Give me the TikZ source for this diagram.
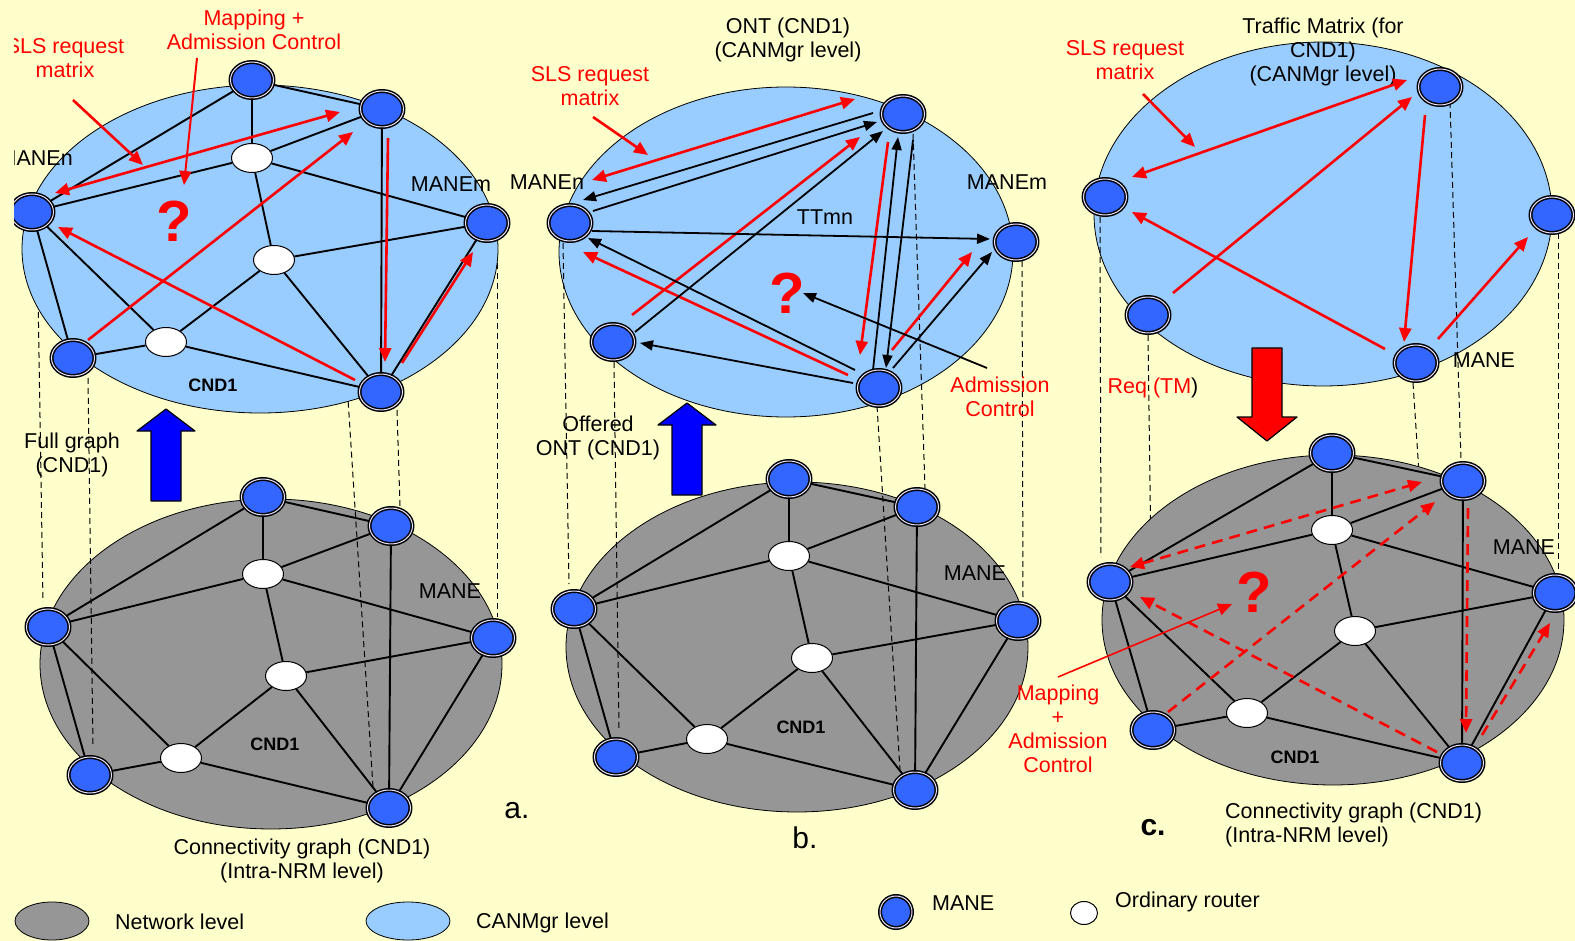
\documentclass[tikz,border=0pt]{standalone}
\usepackage{fontspec}
\setmainfont{Liberation Sans}
\usetikzlibrary{shapes.geometric,arrows.meta,calc}
\definecolor{paper}{HTML}{FFFFCC}
\definecolor{canblue}{HTML}{99CCFF}
\definecolor{netgray}{HTML}{969696}
\definecolor{maneblue}{HTML}{3366FF}
\definecolor{liftblue}{HTML}{0000FF}
\pgfdeclarelayer{ground}
\pgfdeclarelayer{lvlA}
\pgfdeclarelayer{lvlB}
\pgfdeclarelayer{lvlC}
\pgfsetlayers{ground,lvlA,lvlB,lvlC,main}
\tikzset{
  mane/.style={ellipse,draw=black,line width=1.5pt,double=blue!10,double distance=1pt,
    fill=maneblue,minimum width=43pt,minimum height=36pt},
  router/.style={ellipse,draw=black,line width=1pt,fill=white,minimum width=41pt,minimum height=29pt},
  netlevel/.style={ellipse,draw=black,line width=0.8pt,fill=netgray},
  canlevel/.style={ellipse,draw=black,line width=0.8pt,fill=canblue},
  link/.style={line width=1.9pt},
  guide/.style={line width=1pt,dash pattern=on 6pt off 4pt},
  req/.style={red,line width=2.6pt,-{Triangle[length=14pt,width=12pt]}},
  reqboth/.style={req,{Triangle[length=14pt,width=12pt]}-{Triangle[length=14pt,width=12pt]}},
  mapreq/.style={req,dash pattern=on 11pt off 7pt},
  mapbothreq/.style={reqboth,dash pattern=on 11pt off 7pt},
  ontarr/.style={line width=1.8pt,-{Triangle[length=13pt,width=10pt]}},
  note/.style={red,align=center},
  quest/.style={red,font=\fontsize{58}{58}\selectfont\bfseries},
  cnd/.style={font=\fontsize{18}{18}\selectfont\bfseries},
  panel/.style={anchor=base,font=\fontsize{30}{30}\selectfont},
  lift/.style={fill=liftblue,draw=black,line width=1.2pt},
}
% links of one CND1 graph, #1 = prefix of the node names
\newcommand{\cndlinks}[1]{%
  \draw[link] (#1T1) -- (#1N) (#1T1) -- (#1T2) (#1T1) -- (#1R1) (#1T2) -- (#1R1)
    (#1R1) -- (#1N) (#1R1) -- (#1M) (#1R1) -- (#1R2) (#1R2) -- (#1M)
    (#1R2) -- (#1R3) (#1R2) -- (#1BR) (#1N) -- (#1BL) (#1N) -- (#1R3)
    (#1R3) -- (#1BL) (#1R3) -- (#1BR) (#1T2) -- (#1BR) (#1M) -- (#1BR);}
\begin{document}
\begin{tikzpicture}[x=1pt,y=-1pt,line join=round,font=\fontsize{21.5}{24}\selectfont,
  every node/.append style={inner sep=0pt}]
\begin{pgfonlayer}{ground}
  \fill[paper] (0,0) rectangle (1575,941);
\end{pgfonlayer}
\useasboundingbox (0,0) rectangle (1575,941);
% levels
\begin{pgfonlayer}{lvlA}
  \node[netlevel,minimum width=462pt,minimum height=330pt] (aNet) at (271,664) {};
  \node[netlevel,minimum width=462pt,minimum height=330pt] (bNet) at (797,647) {};
  \node[canlevel,minimum width=454pt,minimum height=330pt] (bCan) at (786,252) {};
  \node[canlevel,minimum width=458pt,minimum height=344pt] (cCan) at (1323,214) {};
\end{pgfonlayer}
\begin{pgfonlayer}{lvlC}
  \node[canlevel,minimum width=476pt,minimum height=328pt] (aCan) at (260,249) {};
  \node[netlevel,minimum width=462pt,minimum height=330pt] (cNet) at (1333,620) {};
\end{pgfonlayer}

% a. full graph (top) and connectivity graph (bottom)
\node[mane] (atT1) at (252,80) {};   \node[mane] (atT2) at (382,109) {};
\node[mane] (atN) at (32,212) {};    \node[mane] (atM) at (487,223) {};
\node[mane] (atBL) at (73,358) {};   \node[mane] (atBR) at (381,392) {};
\node[router] (atR1) at (252,158) {}; \node[router] (atR2) at (274,260) {};
\node[router] (atR3) at (166,342) {};
\node[mane] (abT1) at (263,497) {};  \node[mane] (abT2) at (391,526) {};
\node[mane] (abN) at (48,627) {};    \node[mane] (abM) at (493,638) {};
\node[mane] (abBL) at (90,775) {};   \node[mane] (abBR) at (389,808) {};
\node[router] (abR1) at (263,574) {}; \node[router] (abR2) at (286,676) {};
\node[router] (abR3) at (181,758) {};
\cndlinks{at} \cndlinks{ab}

% b. ONT (top) and connectivity graph (bottom)
\node[mane] (btT2) at (903,114) {};  \node[mane] (btN) at (570,223) {};
\node[mane] (btM) at (1016,242) {};  \node[mane] (btBL) at (613,342) {};
\node[mane] (btBR) at (879,388) {};
\node[mane] (bbT1) at (789,479) {};  \node[mane] (bbT2) at (917,507) {};
\node[mane] (bbN) at (574,609) {};   \node[mane] (bbM) at (1018,621) {};
\node[mane] (bbBL) at (616,757) {};  \node[mane] (bbBR) at (915,790) {};
\node[router] (bbR1) at (789,556) {}; \node[router] (bbR2) at (812,658) {};
\node[router] (bbR3) at (707,739) {};
\cndlinks{bb}

% c. traffic matrix (top) and connectivity graph (bottom)
\node[mane] (ctT2) at (1440,87) {};  \node[mane] (ctN) at (1105,197) {};
\node[mane] (ctM) at (1552,215) {};  \node[mane] (ctBL) at (1148,315) {};
\node[mane] (ctBR) at (1416,363) {};
\node[mane] (cbT1) at (1332,453) {}; \node[mane] (cbT2) at (1463,481) {};
\node[mane] (cbN) at (1110,582) {};  \node[mane] (cbM) at (1555,593) {};
\node[mane] (cbBL) at (1153,730) {}; \node[mane] (cbBR) at (1462,763) {};
\node[router] (cbR1) at (1332,530) {}; \node[router] (cbR2) at (1355,631) {};
\node[router] (cbR3) at (1247,713) {};
\cndlinks{cb}

% guides between the levels
\begin{pgfonlayer}{lvlB}
  \draw[guide] ($(atN)+(5,20)$) -- ($(abN)+(-5,-25)$);
  \draw[guide] ($(atBL)+(15,20)$) -- ($(abBL)+(3,-28)$);
  \draw[guide] (aCan.-60) -- ($(abBR)+(-16,-21)$);
  \draw[guide] ($(atBR)+(16,18)$) -- ($(abT2)+(9,-20)$);
  \draw[guide] ($(atM)+(10,30)$) -- ($(abM)+(4,-21)$);
  \draw[guide] ($(btN)+(-7,20)$) -- ($(bbN)+(-5,-25)$);
  \draw[guide] ($(btBL)+(1,20)$) -- ($(bbBL)+(3,-27)$);
  \draw[guide] ($(btBR)+(-2,18)$) -- ($(bbBR)+(-15,-20)$);
  \draw[guide] ($(btT2)+(10,20)$) -- ($(bbT2)+(8,-19)$);
  \draw[guide] ($(btM)+(6,19)$) -- ($(bbM)+(5,-21)$);
  \draw[guide] ($(ctN)+(-5,20)$) -- ($(cbN)+(-9,-25)$);
  \draw[guide] ($(ctBL)+(0,20)$) -- ($(cbBL)+(0,-20)$);
  \draw[guide] ($(ctBR)+(-3,20)$) -- ($(cbBR)+(-25,-20)$);
  \draw[guide] ($(ctT2)+(10,15)$) -- ($(cbT2)+(-2,-20)$);
  \draw[guide] ($(ctM)+(6,18)$) -- ($(cbM)+(3,-21)$);
\end{pgfonlayer}

% lift arrows
\foreach \x/\y in {166/409,687/403}
  \filldraw[lift] (\x-15,\y+92) -- (\x-15,\y+22) -- (\x-29,\y+22) -- (\x,\y)
    -- (\x+29,\y+22) -- (\x+15,\y+22) -- (\x+15,\y+92) -- cycle;
\filldraw[fill=red,draw=black,line width=1.2pt] (1252,348) -- (1282,348) -- (1282,417)
  -- (1297,417) -- (1267,441) -- (1237,417) -- (1252,417) -- cycle;

% texts
\node[note] (aSLS) at (65,58) {SLS request\\matrix};
\node[note] (aMap) at (254,30) {Mapping +\\Admission Control};
\node[quest] (aQ) at (174,221) {?};
\node[anchor=east] (aLN) at (73,158) {MANEn};
\node (aLM) at (451,184) {MANEm};
\node[cnd] (aCndT) at (213,385) {CND1};
\node[align=center] (aFull) at (72,455) {Full graph\\(CND1)};
\node (aMane) at (450,591) {MANE};
\node[cnd] (aCndB) at (275,744) {CND1};
\node[align=center] (aConn) at (302,861) {Connectivity graph (CND1)\\(Intra-NRM level)};
\node[panel] (aLbl) at (517,818) {a.};

\node[align=center] (bOnt) at (788,40) {ONT (CND1)\\(CANMgr level)};
\node[note] (bSLS) at (590,86) {SLS request\\matrix};
\node (bLN) at (547,182) {MANEn};
\node (bLM) at (1007,182) {MANEm};
\node (bTT) at (825,217) {TTmn};
\node[quest] (bQ) at (787,293) {?};
\node[note] (bAdm) at (1000,397) {Admission\\Control};
\node[align=center] (bOff) at (598,438) {Offered\\ONT (CND1)};
\node (bMane) at (975,573) {MANE};
\node[cnd] (bCnd) at (801,727) {CND1};
\node[panel] (bLbl) at (805,848) {b.};

\node[align=center] (cTM) at (1323,52) {Traffic Matrix (for\\CND1)\\(CANMgr level)};
\node[note] (cSLS) at (1125,60) {SLS request\\matrix};
\node (cManeT) at (1484,360) {MANE};
\node (cReq) at (1153,388) {\textcolor{red}{Req (TM})};
\node[note] (cMap) at (1058,729) {Mapping\\+\\Admission\\Control};
\node[quest] (cQ) at (1254,592) {?};
\node (cManeB) at (1524,547) {MANE};
\node[cnd] (cCnd) at (1295,757) {CND1};
\node[panel,font=\fontsize{30}{30}\selectfont\bfseries] (cLbl) at (1153,835) {c.};
\node[anchor=west,align=left] (cConn) at (1225,825) {Connectivity graph (CND1)\\(Intra-NRM level)};

% a. requests
\draw[reqboth] ($(atN)+(23,-19)$) -- ($(atT2)+(-42,3)$);
\draw[req] ($(atBL)+(15,-18)$) -- ($(atT2)+(-29,23)$);
\draw[req] ($(atBR)+(-26,-12)$) -- ($(atN)+(26,15)$);
\draw[req] ($(atT2)+(6,29)$) -- ($(atBR)+(4,-30)$);
\draw[req] ($(atBR)+(21,-29)$) -- ($(atM)+(-14,29)$);
\draw[req] ($(aSLS)+(8,42)$) -- +(70,65);
\draw[req,line width=2pt] ($(aMap)+(-57,28)$) -- ($(aQ)+(10,-36)$);

% b. requests and offered ONT
\draw[reqboth] ($(btN)+(22,-43)$) -- ($(btT2)+(-48,-15)$);
\draw[req] ($(btBL)+(19,-27)$) -- ($(btT2)+(-43,23)$);
\draw[req] ($(btBR)+(-31,-13)$) -- ($(btN)+(13,29)$);
\draw[req] ($(btT2)+(-15,28)$) -- ($(btBR)+(-19,-33)$);
\draw[req] ($(btBR)+(13,-38)$) -- ($(btM)+(-44,10)$);
\draw[req] ($(bSLS)+(3,31)$) -- +(55,38);
\draw[ontarr] ($(btT2)+(-30,-1)$) -- ($(btN)+(13,-23)$);
\draw[ontarr] ($(btN)+(23,-12)$) -- ($(btT2)+(-26,8)$);
\draw[ontarr] ($(btBL)+(22,-10)$) -- ($(btT2)+(-20,17)$);
\draw[ontarr] ($(btN)+(22,8)$) -- ($(btM)+(-26,-3)$);
\draw[ontarr] ($(btBR)+(-24,-18)$) -- ($(btN)+(18,15)$);
\draw[ontarr] ($(btBR)+(-26,-5)$) -- ($(btBL)+(27,1)$);
\draw[ontarr] ($(btBR)+(-6,-18)$) -- ($(btT2)+(-5,23)$);
\draw[ontarr] ($(btT2)+(10,26)$) -- ($(btBR)+(7,-20)$);
\draw[ontarr] ($(btBR)+(14,-20)$) -- ($(btM)+(-24,10)$);
\draw[ontarr] ($(bAdm)+(-13,-29)$) -- ($(bQ)+(16,0)$);

% c. requests and mapping
\draw[reqboth] ($(ctN)+(27,-20)$) -- ($(ctT2)+(-33,-7)$);
\draw[req] ($(ctBL)+(25,-22)$) -- ($(ctT2)+(-28,10)$);
\draw[req] ($(ctBR)+(-31,-14)$) -- ($(ctN)+(27,15)$);
\draw[req] ($(ctT2)+(-15,28)$) -- ($(ctBR)+(-12,-21)$);
\draw[req] ($(ctBR)+(22,-24)$) -- ($(ctM)+(-24,22)$);
\draw[req] ($(cSLS)+(18,34)$) -- +(52,53);
\draw[mapbothreq] ($(cbN)+(20,-15)$) -- ($(cbT2)+(-41,1)$);
\draw[mapreq] ($(cbBL)+(15,-18)$) -- ($(cbT2)+(-28,21)$);
\draw[mapreq] ($(cbBR)+(-25,-11)$) -- ($(cbN)+(30,15)$);
\draw[mapreq] ($(cbT2)+(5,27)$) -- ($(cbBR)+(4,-30)$);
\draw[mapreq] ($(cbBR)+(20,-28)$) -- ($(cbM)+(-5,30)$);
\draw[req,line width=1.6pt] ($(cMap)+(0,-52)$) -- ($(cQ)+(-22,12)$);

% legend
\node[netlevel,minimum width=74pt,minimum height=38pt] (keyNet) at (52,921) {};
\node[anchor=base west] (keyNetTxt) at (115,929) {Network level};
\node[canlevel,minimum width=84pt,minimum height=38pt] (keyCan) at (408,921) {};
\node[anchor=base west] (keyCanTxt) at (476,928) {CANMgr level};
\node[mane,minimum width=32pt,minimum height=32pt] (keyMane) at (896,912) {};
\node[anchor=base west] (keyManeTxt) at (932,910) {MANE};
\node[router,minimum width=27pt,minimum height=23pt] (keyRouter) at (1084,913) {};
\node[anchor=base west] (keyRouterTxt) at (1115,907) {Ordinary router};

% cropped left margin
\fill[paper] (0,0) rectangle (14,941);
\end{tikzpicture}
\end{document}
